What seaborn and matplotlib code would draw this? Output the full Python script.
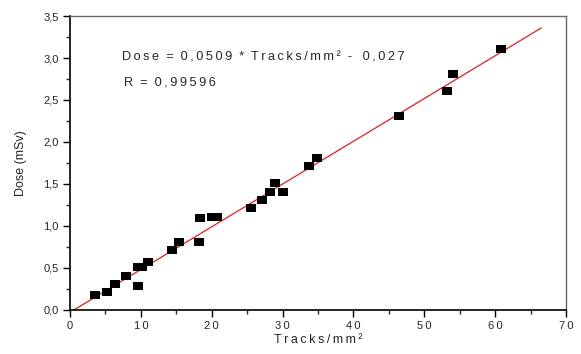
import matplotlib
matplotlib.use("Agg")
import matplotlib.pyplot as plt
from matplotlib.ticker import MultipleLocator, FuncFormatter
import seaborn as sns
import pandas as pd

# measured points
tracks = [3.5, 5.2, 6.4, 7.9, 9.6, 9.6, 10.1, 11.0, 14.4, 15.4, 18.2, 18.4,
          20.0, 20.7, 25.6, 27.1, 28.2, 29.0, 30.0, 33.7, 34.8, 46.4, 53.2,
          54.0, 60.8]
dose = [0.18, 0.21, 0.31, 0.41, 0.51, 0.28, 0.51, 0.57, 0.71, 0.81, 0.81, 1.09,
        1.11, 1.11, 1.21, 1.31, 1.41, 1.51, 1.41, 1.71, 1.81, 2.31, 2.61,
        2.81, 3.11]

# linear fit
slope = 0.0509
intercept = -0.027
fit_x = [0.53, 66.5]

df = pd.DataFrame({"Tracks": tracks, "Dose": dose})
fit = pd.DataFrame({"Tracks": fit_x,
                    "Dose": [slope * v + intercept for v in fit_x]})


def spaced(s):
    # wide letter spacing like the original plot software
    return "\u2009".join(s)


sns.set_style("ticks")
plt.rcParams["font.family"] = ["Liberation Sans", "DejaVu Sans"]

fig = plt.figure(figsize=(5.81, 3.54), dpi=100)
ax = fig.add_axes([0.1205, 0.1243, 0.8537, 0.8305])

sns.lineplot(data=fit, x="Tracks", y="Dose", color="red", linewidth=0.8, ax=ax)
rect = [(-1, -0.82), (1, -0.82), (1, 0.82), (-1, 0.82), (-1, -0.82)]
sns.scatterplot(data=df, x="Tracks", y="Dose", marker=rect, s=42,
                color="black", edgecolor="black", linewidth=0, ax=ax, zorder=3)

ax.set_xlim(0, 70)
ax.set_ylim(0, 3.5)
ax.xaxis.set_major_locator(MultipleLocator(10))
ax.xaxis.set_minor_locator(MultipleLocator(5))
ax.yaxis.set_major_locator(MultipleLocator(0.5))
ax.yaxis.set_minor_locator(MultipleLocator(0.25))
ax.yaxis.set_major_formatter(FuncFormatter(lambda v, p: f"{v:.1f}".replace(".", ",")))
ax.xaxis.set_major_formatter(FuncFormatter(lambda v, p: spaced(f"{v:.0f}")))
ax.tick_params(axis="both", which="major", length=5, width=1, labelsize=8,
               direction="out", color="black", pad=3)
ax.tick_params(axis="both", which="minor", length=3, width=1, direction="out")
ax.tick_params(top=False, right=False)

for s in ["left", "bottom"]:
    ax.spines[s].set_color("black")
    ax.spines[s].set_linewidth(1.2)
for s in ["top", "right"]:
    ax.spines[s].set_visible(True)
    ax.spines[s].set_color("#666666")
    ax.spines[s].set_linewidth(1.0)

ax.set_xlabel(spaced("Tracks/mm") + "\u2009²", fontsize=9, labelpad=2)
ax.set_ylabel("Dose (mSv)", fontsize=9, labelpad=12)

ax.text(0.105, 0.847,
        spaced("Dose") + "  =  " + spaced("0,0509") + "  *  " + spaced("Tracks/mm")
        + "\u2009²  -   " + spaced("0,027"),
        transform=ax.transAxes, fontsize=9.2)
ax.text(0.109, 0.762, "R  =  " + spaced("0,99596"), transform=ax.transAxes,
        fontsize=9.2)

fig.savefig("out.png", dpi=100)
